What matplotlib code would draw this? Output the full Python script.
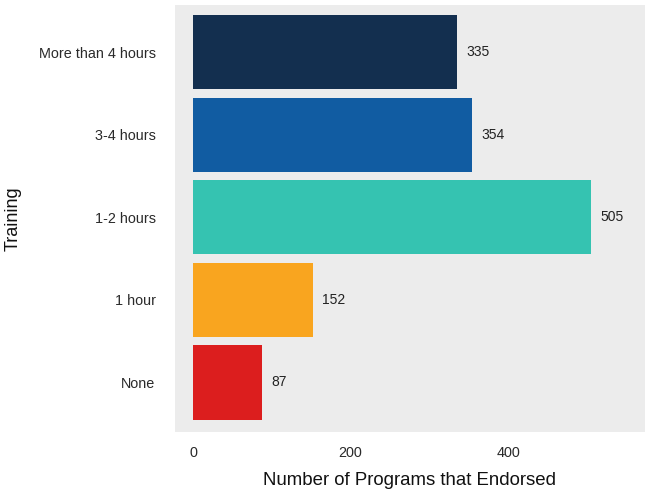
import matplotlib.pyplot as plt

plt.rcParams['font.family'] = ['Liberation Sans', 'DejaVu Sans']

# Training categories, bottom to top
categories = ["None", "1 hour", "1-2 hours", "3-4 hours", "More than 4 hours"]
counts = [87, 152, 505, 354, 335]
colors = ["#dc1e1e", "#f9a51f", "#35c3b1", "#115ca2", "#132f4f"]

fig = plt.figure(figsize=(6.45, 4.91), dpi=100)
ax = fig.add_axes([0.2713, 0.1202, 0.7287, 0.8696])
ax.set_facecolor("#ececec")

ypos = range(len(categories))
bars = ax.barh(ypos, counts, height=0.9, color=colors)

for y, v in zip(ypos, counts):
    ax.text(v + 12, y, str(v), va="center", ha="left", fontsize=10, color="#222222")

ax.set_xlim(-23, 574)
ax.set_ylim(-0.6, 4.57)
ax.set_xticks([0, 200, 400])
ax.set_yticks(list(ypos))
ax.set_yticklabels(categories)
ax.tick_params(axis="both", length=0, labelsize=10.4, colors="#2a2a2a")
ax.tick_params(axis="y", pad=14)
ax.tick_params(axis="x", pad=10)
for s in ax.spines.values():
    s.set_visible(False)

ax.set_xlabel("Number of Programs that Endorsed", fontsize=13.4, color="#111111", labelpad=9)
ax.set_ylabel("Training", fontsize=13, color="#111111", labelpad=12)

fig.savefig("out.png", dpi=100)
